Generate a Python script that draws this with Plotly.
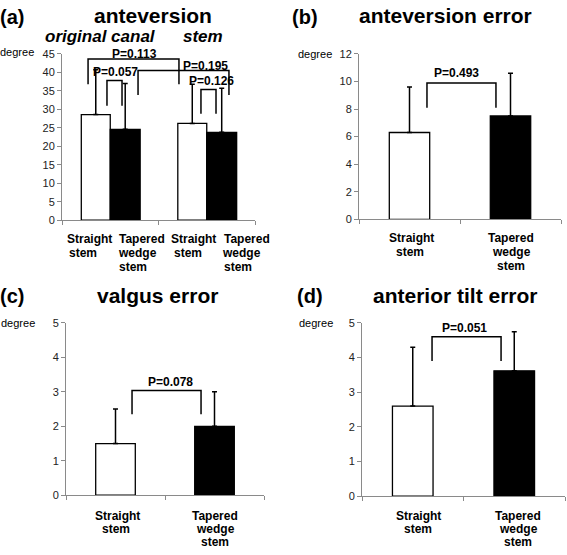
import plotly.graph_objects as go

W, H = 567, 555
def px(x): return x / W
def py(y): return 1 - y / H

FONT = "Liberation Sans, Arial, sans-serif"

# ---- data ----
groups_a = ["original canal", "stem"]
straight_a = [28.6, 26.2]
straight_a_err = [12.1, 10.6]
tapered_a = [24.6, 23.8]
tapered_a_err = [12.4, 11.9]

cats = ["Straight stem", "Tapered wedge stem"]
labels_a = ["Straight stem", "Tapered wedge stem", "Straight stem", "Tapered wedge stem"]
antev_err = [6.3, 7.5]
antev_err_sd = [3.3, 3.1]
valgus_err = [1.5, 2.0]
valgus_err_sd = [1.0, 1.0]
tilt_err = [2.6, 3.62]
tilt_err_sd = [1.7, 1.13]

p_a = ["P=0.057", "P=0.113", "P=0.195", "P=0.126"]
p_b, p_c, p_d = "P=0.493", "P=0.078", "P=0.051"

fig = go.Figure()

# panel (a)
fig.add_trace(go.Bar(x=groups_a, y=straight_a, offset=-0.30, width=0.30,
                     marker=dict(color="white", line=dict(color="black", width=1.3)),
                     error_y=dict(type="data", array=straight_a_err, arrayminus=[0, 0], symmetric=False,
                                  color="black", thickness=1.5, width=2.5),
                     xaxis="x", yaxis="y", showlegend=False))
fig.add_trace(go.Bar(x=groups_a, y=tapered_a, offset=0.0, width=0.31,
                     marker=dict(color="black", line=dict(color="black", width=1.3)),
                     error_y=dict(type="data", array=tapered_a_err, arrayminus=[0, 0], symmetric=False,
                                  color="black", thickness=1.5, width=2.5),
                     xaxis="x", yaxis="y", showlegend=False))

def two_bar(vals, sds, xa, ya):
    fig.add_trace(go.Bar(x=cats, y=vals, width=0.4,
                         marker=dict(color=["white", "black"], line=dict(color="black", width=1.3)),
                         error_y=dict(type="data", array=sds, arrayminus=[0, 0], symmetric=False,
                                      color="black", thickness=1.5, width=2.5),
                         xaxis=xa, yaxis=ya, showlegend=False))

two_bar(antev_err, antev_err_sd, "x2", "y2")
two_bar(valgus_err, valgus_err_sd, "x3", "y3")
two_bar(tilt_err, tilt_err_sd, "x4", "y4")

axis_common = dict(showline=True, linecolor="#8a8a8a", linewidth=1, ticks="outside",
                   ticklen=4, tickcolor="#8a8a8a", showgrid=False, zeroline=False,
                   tickfont=dict(family=FONT, size=11, color="#222"))

def xax(dom):
    d = dict(axis_common)
    d.update(domain=dom, type="category", tickson="boundaries", range=[-0.5, 1.5],
             showticklabels=False, fixedrange=True)
    return d

def yax(dom, rng, dtick, anchor):
    d = dict(axis_common)
    d.update(domain=dom, range=rng, dtick=dtick, anchor=anchor, fixedrange=True)
    return d

fig.update_layout(
    width=W, height=H, autosize=False,
    margin=dict(l=0, r=0, t=0, b=0),
    paper_bgcolor="white", plot_bgcolor="white",
    font=dict(family=FONT, color="black"),
    barmode="overlay",
    xaxis=dict(xax([px(62), px(255)]), anchor="y"),
    yaxis=yax([py(219), py(49)], [0, 45], 5, "x"),
    xaxis2=dict(xax([px(359), px(561)]), anchor="y2"),
    yaxis2=yax([py(218), py(49)], [0, 12], 2, "x2"),
    xaxis3=dict(xax([px(66), px(264)]), anchor="y3"),
    yaxis3=yax([py(500), py(324)], [0, 5], 1, "x3"),
    xaxis4=dict(xax([px(362), px(565)]), anchor="y4"),
    yaxis4=yax([py(501), py(324)], [0, 5], 1, "x4"),
)

shapes = []
def bracket(xref, yref, x0, x1, top, leg):
    shapes.append(dict(type="path", xref=xref, yref=yref,
                       path=f"M {x0},{leg} L {x0},{top} L {x1},{top} L {x1},{leg}",
                       line=dict(color="black", width=1.5)))

bracket("x", "y", -0.034, 0.122, 37.8, 31.0)
bracket("x", "y", -0.23, 0.712, 43.6, 36.8)
bracket("x", "y", 0.288, 1.23, 40.5, 33.9)
bracket("x", "y", 0.94, 1.096, 35.4, 28.8)
bracket("x2", "y2", 0.173, 0.856, 9.9, 8.1)
bracket("x3", "y3", 0.167, 0.864, 3.04, 2.35)
bracket("x4", "y4", 0.19, 0.87, 4.6, 3.9)
fig.update_layout(shapes=shapes)

ann = []
def ptxt(text, xref, yref, x, y):
    ann.append(dict(text=f"<b>{text}</b>", xref=xref, yref=yref, x=x, y=y, showarrow=False,
                    font=dict(family=FONT, size=12, color="black"), xanchor="center", yanchor="middle"))

ptxt(p_a[0], "x", "y", 0.05, 40.0)
ptxt(p_a[1], "x", "y", 0.256, 45.0)
ptxt(p_a[2], "x", "y", 0.99, 41.8)
ptxt(p_a[3], "x", "y", 1.05, 37.6)
ptxt(p_b, "x2", "y2", 0.47, 10.6)
ptxt(p_c, "x3", "y3", 0.56, 3.3)
ptxt(p_d, "x4", "y4", 0.505, 4.86)

def txt(text, x, y, size, xanchor="center", italic=False, bold=True, yanchor="middle"):
    t = f"<b>{text}</b>" if bold else text
    if italic:
        t = f"<i>{t}</i>"
    ann.append(dict(text=t, xref="paper", yref="paper", x=px(x), y=py(y), showarrow=False,
                    font=dict(family=FONT, size=size, color="black"), xanchor=xanchor, yanchor=yanchor))

# titles
txt("(a)", 12, 11, 20)
txt("anteversion", 153, 10, 21)
txt("(b)", 305, 11, 20)
txt("anteversion error", 445, 10, 21)
txt("(c)", 12, 296, 20)
txt("valgus error", 157, 296, 21)
txt("(d)", 310, 296, 20)
txt("anterior tilt error", 455, 296, 21)
txt("original canal", 100, 31, 17, italic=True)
txt("stem", 203, 31, 17, italic=True)

# degree labels
txt("degree", 36, 47, 11, xanchor="right", bold=False)
txt("degree", 334, 49, 11, xanchor="right", bold=False)
txt("degree", 37, 324, 11, xanchor="right", bold=False)
txt("degree", 335, 324, 11, xanchor="right", bold=False)

# category labels, one text per line
def cat_label(label, xs, ys):
    for word, x, y in zip(label.split(" "), xs, ys):
        txt(word, x, y, 12)

rows_a = [238, 252, 267]
cat_label(labels_a[0], [89, 83], rows_a)
cat_label(labels_a[1], [142, 137, 133], rows_a)
cat_label(labels_a[2], [193, 188], rows_a)
cat_label(labels_a[3], [247, 241, 238], rows_a)

rows_b = [237, 251, 266]
cat_label(cats[0], [411, 410], rows_b)
cat_label(cats[1], [511, 511, 511], rows_b)

rows_cd = [521, 535, 548]
cat_label(cats[0], [117, 116], rows_cd)
cat_label(cats[1], [215, 215, 215], rows_cd)
cat_label(cats[0], [418, 418], rows_cd)
cat_label(cats[1], [518, 518, 518], rows_cd)

fig.update_layout(annotations=ann)
fig.write_html("out.html", config={"displayModeBar": False, "staticPlot": True},
               post_script="document.body.style.margin='0';document.body.style.overflow='hidden';")
